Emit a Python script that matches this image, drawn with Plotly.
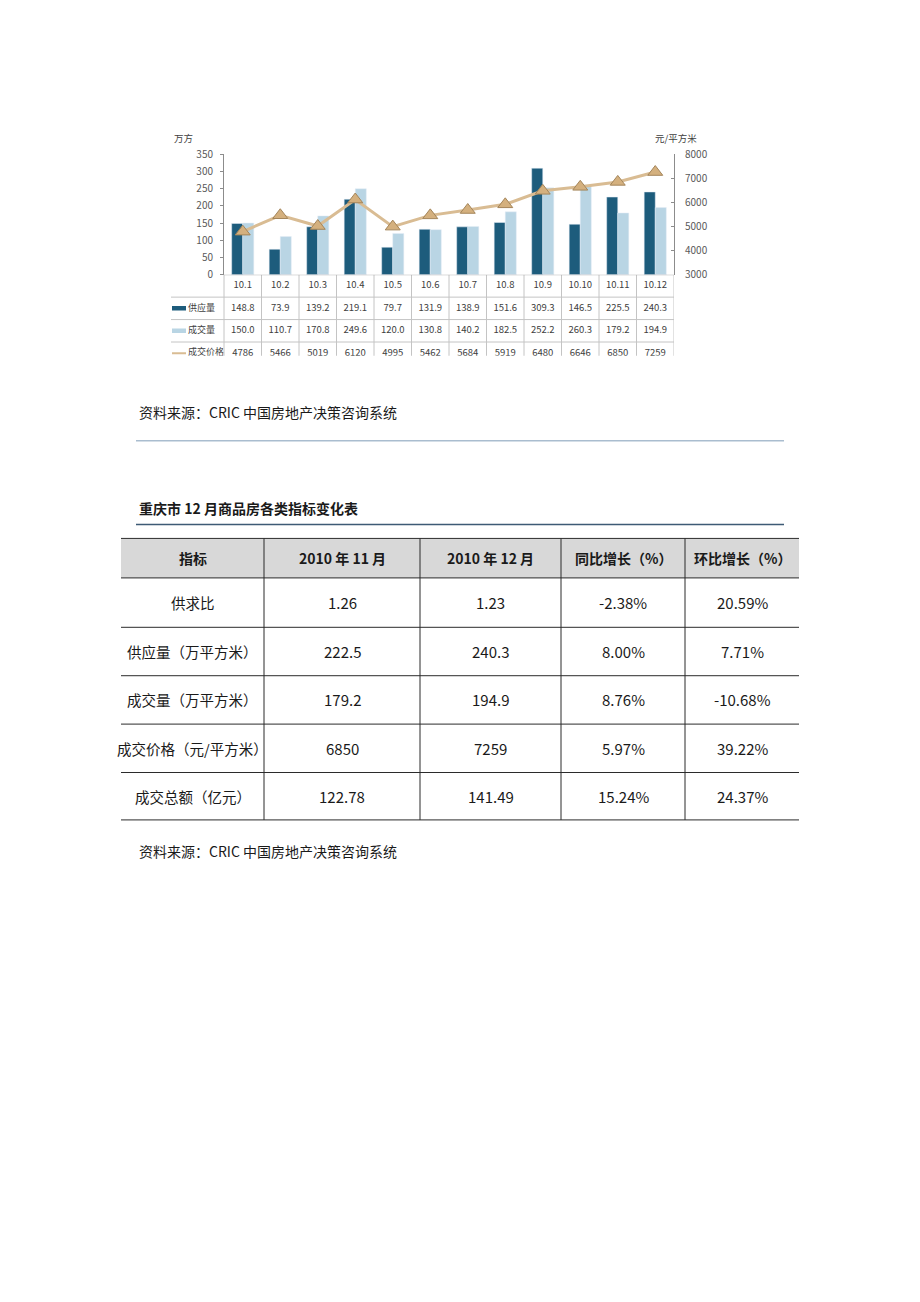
import plotly.graph_objects as go

W, H = 920, 1302


def px(x):
    return x / W


def py(y):
    return 1 - y / H


# ---------------- chart data ----------------
categories = ["10.1", "10.2", "10.3", "10.4", "10.5", "10.6",
              "10.7", "10.8", "10.9", "10.10", "10.11", "10.12"]
supply = [148.8, 73.9, 139.2, 219.1, 79.7, 131.9, 138.9, 151.6, 309.3, 146.5, 225.5, 240.3]
deal = [150.0, 110.7, 170.8, 249.6, 120.0, 130.8, 140.2, 182.5, 252.2, 260.3, 179.2, 194.9]
price = [4786, 5466, 5019, 6120, 4995, 5462, 5684, 5919, 6480, 6646, 6850, 7259]
series_names = ["供应量", "成交量", "成交价格"]

# ---------------- table data ----------------
table_header = ["指标", "2010 年 11 月", "2010 年 12 月", "同比增长（%）", "环比增长（%）"]
row_labels = ["供求比", "供应量（万平方米）", "成交量（万平方米）", "成交价格（元/平方米）", "成交总额（亿元）"]
nov = ["1.26", "222.5", "179.2", "6850", "122.78"]
dec = ["1.23", "240.3", "194.9", "7259", "141.49"]
yoy = ["-2.38%", "8.00%", "8.76%", "5.97%", "15.24%"]
mom = ["20.59%", "7.71%", "-10.68%", "39.22%", "24.37%"]

source_text = "资料来源：CRIC 中国房地产决策咨询系统"
table_title = "重庆市 12 月商品房各类指标变化表"

FONT = "Noto Sans CJK SC"
DARK = "#1d5c7c"
LIGHT = "#b9d5e4"
TAN = "#d9bc93"
GRID = "#c4c4c4"
TXT = "#404040"

fig = go.Figure()

# main chart
fig.add_trace(go.Bar(x=categories, y=supply, name=series_names[0], marker_color=DARK,
                     xaxis="x", yaxis="y"))
fig.add_trace(go.Bar(x=categories, y=deal, name=series_names[1], marker_color=LIGHT,
                     xaxis="x", yaxis="y"))
fig.add_trace(go.Scatter(x=categories, y=price, name=series_names[2], yaxis="y2", xaxis="x",
                         mode="lines+markers",
                         line=dict(color=TAN, width=3),
                         marker=dict(symbol="triangle-up", size=13, color="#d4b07e",
                                     line=dict(color="#a4855a", width=1))))

# data table under the chart (clipped subplot)
lo = -0.5 - (224 - 171) / 37.5
n = len(categories)
idx = list(range(n))
tx = idx * 4
ty = [0.5] * n + [1.5] * n + [2.5] * n + [3.5] * n
ttext = (categories + [f"{v:.1f}" for v in supply] + [f"{v:.1f}" for v in deal]
         + [str(v) for v in price])
fig.add_trace(go.Scatter(x=tx, y=ty, text=ttext, mode="text", xaxis="x3", yaxis="y3",
                         textfont=dict(family=FONT, size=9.5, color=TXT), cliponaxis=True,
                         hoverinfo="skip"))
fig.add_trace(go.Scatter(x=[lo + 0.45] * 3, y=[1.5, 2.5, 3.5], text=series_names, mode="text",
                         textposition="middle right", xaxis="x3", yaxis="y3",
                         textfont=dict(family=FONT, size=9, color=TXT), cliponaxis=True,
                         hoverinfo="skip"))

shapes = []
# mini-table grid
for k in range(n + 1):
    shapes.append(dict(type="line", xref="x3", yref="y3", x0=k - 0.5, x1=k - 0.5, y0=0, y1=4,
                       line=dict(color=GRID, width=1)))
for r in [1, 2, 3]:
    shapes.append(dict(type="line", xref="x3", yref="y3", x0=lo, x1=n - 0.5, y0=r, y1=r,
                       line=dict(color=GRID, width=1)))
shapes.append(dict(type="line", xref="x3", yref="y3", x0=-0.5, x1=n - 0.5, y0=0, y1=0,
                   line=dict(color="#a6a6a6", width=1)))
# legend swatches
sw0, sw1 = lo + 1 / 37.5, lo + 15 / 37.5
shapes.append(dict(type="rect", xref="x3", yref="y3", x0=sw0, x1=sw1, y0=1.4, y1=1.6,
                   fillcolor=DARK, line=dict(width=0)))
shapes.append(dict(type="rect", xref="x3", yref="y3", x0=sw0, x1=sw1, y0=2.4, y1=2.6,
                   fillcolor=LIGHT, line=dict(width=0)))
shapes.append(dict(type="line", xref="x3", yref="y3", x0=sw0, x1=sw1, y0=3.5, y1=3.5,
                   line=dict(color=TAN, width=2)))

# separator lines
shapes.append(dict(type="line", xref="paper", yref="paper", x0=px(136), x1=px(784),
                   y0=py(437), y1=py(437), line=dict(color="#aabdcf", width=1.5)))
shapes.append(dict(type="line", xref="paper", yref="paper", x0=px(136), x1=px(784),
                   y0=py(522), y1=py(522), line=dict(color="#3d5a75", width=1.5)))

# big table
col_x = [121, 264, 420, 561, 685, 799]
row_y = [536, 576, 626, 675, 724, 773, 821]
shapes.append(dict(type="rect", xref="paper", yref="paper", x0=px(col_x[0]), x1=px(col_x[-1]),
                   y0=py(row_y[1]), y1=py(row_y[0]), fillcolor="#d8d8d8", line=dict(width=0),
                   layer="below"))
for yy in row_y:
    shapes.append(dict(type="line", xref="paper", yref="paper", x0=px(col_x[0]), x1=px(col_x[-1]),
                       y0=py(yy), y1=py(yy), line=dict(color="#2b2b2b", width=1)))
for xx in col_x[1:-1]:
    shapes.append(dict(type="line", xref="paper", yref="paper", x0=px(xx), x1=px(xx),
                       y0=py(row_y[-1]), y1=py(row_y[0]), line=dict(color="#2b2b2b", width=1)))

annotations = []
annotations.append(dict(text="万方", x=px(172), y=py(131), xref="paper", yref="paper",
                        xanchor="left", yanchor="middle", showarrow=False,
                        font=dict(family=FONT, size=9.5, color=TXT)))
annotations.append(dict(text="元/平方米", x=px(676), y=py(131), xref="paper", yref="paper",
                        xanchor="center", yanchor="middle", showarrow=False,
                        font=dict(family=FONT, size=9.5, color=TXT)))
for yy in [408, 852]:
    annotations.append(dict(text=source_text, x=px(137), y=py(yy), xref="paper", yref="paper",
                            xanchor="left", yanchor="middle", showarrow=False,
                            font=dict(family=FONT, size=14, color="#1a1a1a")))
annotations.append(dict(text=f"<b>{table_title}</b>", x=px(137), y=py(505), xref="paper",
                        yref="paper", xanchor="left", yanchor="middle", showarrow=False,
                        font=dict(family=FONT, size=14, color="#1a1a1a")))
centers = [(col_x[i] + col_x[i + 1]) / 2 for i in range(5)]
for i, h in enumerate(table_header):
    annotations.append(dict(text=f"<b>{h}</b>", x=px(centers[i]), y=py((row_y[0] + row_y[1]) / 2),
                            xref="paper", yref="paper", xanchor="center", yanchor="middle",
                            showarrow=False, font=dict(family=FONT, size=14, color="#1a1a1a")))
columns = [row_labels, nov, dec, yoy, mom]
for r in range(5):
    yc = (row_y[r + 1] + row_y[r + 2]) / 2
    for c in range(5):
        annotations.append(dict(text=columns[c][r], x=px(centers[c]), y=py(yc),
                                xref="paper", yref="paper", xanchor="center", yanchor="middle",
                                showarrow=False,
                                font=dict(family=FONT, size=15 if c else 14.5, color="#1a1a1a")))

fig.update_layout(
    width=W, height=H, margin=dict(l=0, r=0, t=0, b=0),
    paper_bgcolor="white", plot_bgcolor="rgba(0,0,0,0)",
    showlegend=False, barmode="group", bargap=0.41, bargroupgap=0,
    font=dict(family=FONT),
    xaxis=dict(domain=[px(224), px(674)], type="category", range=[-0.5, n - 0.5],
               showticklabels=False, ticks="", showline=False, showgrid=False,
               zeroline=False, anchor="y"),
    yaxis=dict(domain=[py(269), py(147)], range=[0, 350], dtick=50, showline=True,
               linecolor="#8c8c8c", ticks="outside", ticklen=3, tickcolor="#8c8c8c",
               ticklabelstandoff=5,
               tickfont=dict(family=FONT, size=10, color="#595959"), showgrid=False,
               zeroline=False, anchor="x"),
    yaxis2=dict(overlaying="y", side="right", range=[3000, 8000], dtick=1000, showline=True,
                linecolor="#8c8c8c", ticks="inside", ticklen=3, tickcolor="#8c8c8c",
                ticklabelstandoff=8,
                tickfont=dict(family=FONT, size=10, color="#595959"), showgrid=False,
                zeroline=False, anchor="x"),
    xaxis3=dict(domain=[px(171), px(674)], range=[lo, n - 0.5], visible=False, anchor="y3"),
    yaxis3=dict(domain=[py(351), py(269)], range=[3.61, 0], visible=False, anchor="x3"),
    shapes=shapes, annotations=annotations,
)

fig.write_html("out.html")
